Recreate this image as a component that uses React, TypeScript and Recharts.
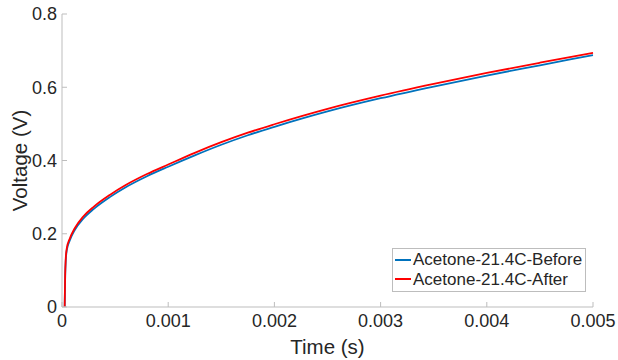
import { LineChart, Line, XAxis, YAxis } from "recharts";

// time (s) and voltage (V)
const time = [
  0.000025, 0.00003, 0.000035, 0.000045, 0.000075, 0.00012, 0.0002, 0.0003,
  0.00045, 0.0006, 0.0008, 0.001, 0.00125, 0.0015, 0.00175, 0.002, 0.0025,
  0.003, 0.0035, 0.004, 0.0045, 0.005,
];
const before = [
  0, 0.085, 0.125, 0.155, 0.183, 0.21, 0.241, 0.268, 0.3, 0.327, 0.357,
  0.383, 0.414, 0.443, 0.469, 0.492, 0.534, 0.57, 0.602, 0.632, 0.66, 0.688,
];
const after = [
  0, 0.09, 0.13, 0.16, 0.188, 0.215, 0.247, 0.274, 0.306, 0.333, 0.363,
  0.389, 0.421, 0.45, 0.476, 0.499, 0.541, 0.577, 0.609, 0.639, 0.667, 0.694,
];
const xTicks = [0, 0.001, 0.002, 0.003, 0.004, 0.005];
const yTicks = [0, 0.2, 0.4, 0.6, 0.8];

const series = [
  { key: "before", name: "Acetone-21.4C-Before", color: "#0072BD" },
  { key: "after", name: "Acetone-21.4C-After", color: "#FF0000" },
];

const data = time.map((t, i) => ({ t, before: before[i], after: after[i] }));

const AXIS = "#bdbdbd";
const TEXT = "#262626";
const tickStyle = { fill: TEXT, fontSize: 18 };

// legend box sits inside the plot, bottom right like matlab's "southeast"
function LegendBox() {
  return (
    <div
      style={{
        position: "absolute",
        left: 392,
        top: 248,
        width: 190,
        height: 41,
        border: `1px solid ${AXIS}`,
        background: "#fff",
        padding: "1px 0 0 2px",
        fontSize: 17,
        color: TEXT,
        lineHeight: "19.5px",
        whiteSpace: "nowrap",
      }}
    >
      {series.map((s) => (
        <div key={s.key} style={{ display: "flex", alignItems: "center" }}>
          <span
            style={{
              display: "inline-block",
              width: 16,
              height: 2,
              background: s.color,
              marginRight: 2,
            }}
          />
          {s.name}
        </div>
      ))}
    </div>
  );
}

export default function App() {
  return (
    <div
      style={{
        position: "absolute",
        left: 0,
        top: 0,
        width: 618,
        height: 360,
        background: "#fff",
        fontFamily: "'Liberation Sans', Arial, Helvetica, sans-serif",
      }}
    >
      <LineChart
        width={618}
        height={360}
        data={data}
        margin={{ top: 14, right: 25, bottom: 3, left: 0 }}
      >
        <XAxis
          dataKey="t"
          type="number"
          domain={[0, 0.005]}
          ticks={xTicks}
          tickFormatter={(v) => (v === 0 ? "0" : String(v))}
          stroke={AXIS}
          tick={tickStyle}
          tickSize={-5}
          tickMargin={12}
          height={50}
          label={{
            value: "Time (s)",
            position: "insideBottom",
            offset: 3,
            fill: TEXT,
            fontSize: 20.5,
          }}
        />
        <XAxis
          xAxisId="top"
          orientation="top"
          type="number"
          domain={[0, 0.005]}
          ticks={xTicks}
          tickFormatter={() => ""}
          stroke={AXIS}
          tickSize={-5}
          height={0}
        />
        <YAxis
          type="number"
          domain={[0, 0.8]}
          ticks={yTicks}
          tickFormatter={(v) => (v === 0 ? "0" : v.toFixed(1))}
          stroke={AXIS}
          tick={tickStyle}
          tickSize={-5}
          tickMargin={10}
          width={62}
          label={{
            value: "Voltage (V)",
            angle: -90,
            position: "insideLeft",
            offset: 20,
            fill: TEXT,
            fontSize: 20.5,
            style: { textAnchor: "middle" },
          }}
        />
        <YAxis
          yAxisId="right"
          orientation="right"
          type="number"
          domain={[0, 0.8]}
          ticks={yTicks}
          tickFormatter={() => ""}
          stroke={AXIS}
          tickSize={-5}
          width={0}
        />
        {series.map((s) => (
          <Line
            key={s.key}
            type="monotone"
            dataKey={s.key}
            name={s.name}
            stroke={s.color}
            strokeWidth={1.8}
            dot={false}
            isAnimationActive={false}
          />
        ))}
      </LineChart>
      <LegendBox />
    </div>
  );
}
